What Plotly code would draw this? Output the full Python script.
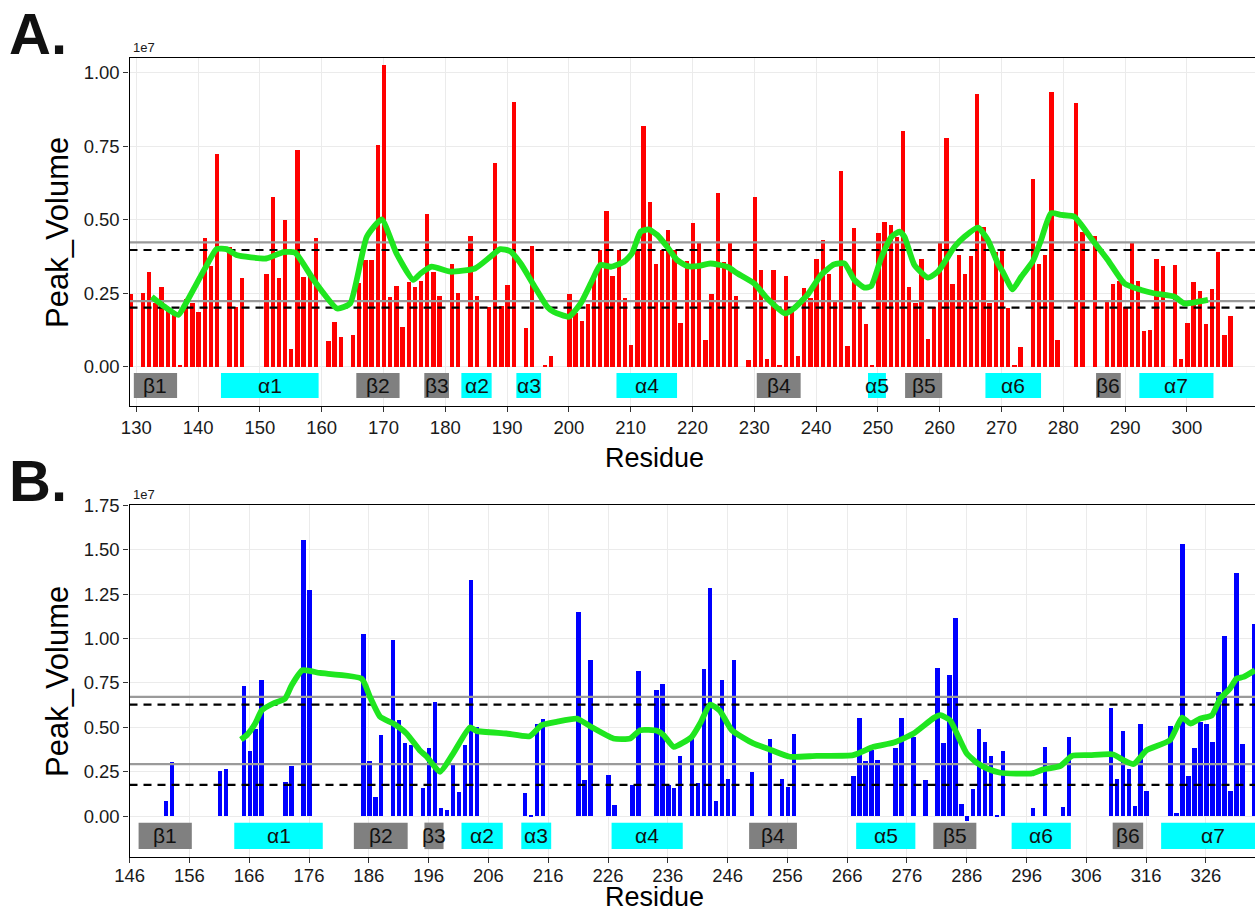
import plotly.graph_objects as go

# ---------------- Panel A: residues 129-307 (peak volume in units of 1e7) ----------------
res_a = [129, 131, 132, 133, 134, 135, 136, 137, 138, 139, 140, 141, 142, 143, 145, 146, 147,
         151, 152, 153, 154, 155, 156, 157, 158, 159, 161, 162, 163, 165, 166, 167, 168, 169,
         170, 171, 172, 173, 174, 175, 176, 177, 178, 179, 181, 182, 184, 185, 187, 188, 189,
         190, 191, 193, 194, 196, 197, 200, 201, 202, 203, 204, 205, 206, 207, 208, 209, 210,
         211, 212, 213, 214, 215, 216, 217, 218, 219, 220, 221, 222, 223, 224, 225, 226, 227,
         229, 230, 231, 232, 233, 234, 235, 236, 237, 238, 239, 240, 241, 242, 243, 244, 245,
         246, 247, 248, 249, 250, 251, 252, 253, 254, 255, 256, 257, 258, 259, 260, 261, 262,
         263, 264, 265, 266, 267, 268, 269, 270, 271, 272, 273, 275, 276, 277, 278, 279, 282,
         283, 285, 287, 288, 289, 290, 291, 292, 293, 294, 295, 296, 298, 299, 300, 301, 302,
         303, 304, 305, 306, 307]
vol_a = [0.247, 0.252, 0.322, 0.215, 0.272, 0.204, 0.180, 0.006, 0.229, 0.215, 0.186, 0.439,
         0.342, 0.722, 0.408, 0.204, 0.303,
         0.317, 0.578, 0.303, 0.499, 0.059, 0.737, 0.306, 0.306, 0.439, 0.087, 0.153, 0.100,
         0.108, 0.286, 0.363, 0.363, 0.754,
         1.026, 0.238, 0.274, 0.134, 0.287, 0.272, 0.290, 0.519, 0.323, 0.241, 0.351, 0.249,
         0.444, 0.241, 0.202, 0.694, 0.206,
         0.277, 0.901, 0.133, 0.410, 0.006, 0.036, 0.247, 0.181, 0.155, 0.213, 0.300, 0.397,
         0.531, 0.310, 0.397, 0.232, 0.074,
         0.397, 0.819, 0.561, 0.348, 0.397, 0.465, 0.397, 0.147, 0.360, 0.488, 0.422, 0.091,
         0.247, 0.592, 0.356, 0.420, 0.240,
         0.023, 0.578, 0.329, 0.025, 0.329, 0.006, 0.310, 0.190, 0.035, 0.266, 0.232, 0.368,
         0.431, 0.315, 0.227, 0.665, 0.070,
         0.473, 0.227, 0.144, 0.006, 0.454, 0.493, 0.482, 0.442, 0.803, 0.270, 0.215, 0.365,
         0.094, 0.204, 0.420, 0.777, 0.280,
         0.380, 0.315, 0.376, 0.926, 0.476, 0.215, 0.390, 0.393, 0.200, 0.006, 0.068, 0.640,
         0.351, 0.380, 0.935, 0.091, 0.898,
         0.459, 0.444, 0.219, 0.280, 0.290, 0.204, 0.422, 0.290, 0.121, 0.125, 0.366, 0.342,
         0.346, 0.026, 0.147, 0.287, 0.259,
         0.144, 0.264, 0.389, 0.108, 0.173]

# smoothed trend for panel A
trend_a_res = [132.5, 134.5, 136.8, 138.0, 141.0, 143.0, 144.6, 146.2, 151.0, 153.8, 155.7,
               158.7, 162.5, 164.6, 167.3, 169.7, 172.1, 174.8, 176.0, 177.8, 180.8, 184.8,
               187.3, 188.9, 190.5, 192.2, 194.3, 196.5, 197.5, 200.0, 201.9, 203.8, 205.1,
               206.8, 208.9, 210.2, 211.6, 212.9, 214.3, 215.9, 217.5, 219.2, 220.8, 222.9,
               225.6, 227.3, 230.0, 232.1, 235.0, 236.4, 238.6, 240.8, 242.9, 244.6, 246.2,
               247.8, 248.9, 250.5, 252.2, 253.5, 254.3, 255.9, 258.1, 259.7, 262.4, 264.0,
               266.2, 267.8, 269.4, 270.2, 271.8, 273.2, 275.1, 276.4, 278.0, 279.7, 281.8,
               284.5, 287.2, 289.9, 292.6, 294.8, 298.0, 299.6, 301.8, 303.4]
trend_a_val = [0.238, 0.205, 0.176, 0.215, 0.330, 0.400, 0.400, 0.380, 0.368, 0.390, 0.388,
               0.295, 0.198, 0.215, 0.442, 0.501, 0.385, 0.295, 0.317, 0.340, 0.323, 0.334,
               0.374, 0.400, 0.393, 0.351, 0.278, 0.204, 0.187, 0.170, 0.215, 0.295, 0.346,
               0.340, 0.357, 0.385, 0.459, 0.467, 0.448, 0.408, 0.363, 0.342, 0.342, 0.351,
               0.340, 0.317, 0.283, 0.232, 0.181, 0.198, 0.244, 0.312, 0.348, 0.351, 0.295,
               0.269, 0.274, 0.368, 0.442, 0.459, 0.442, 0.346, 0.303, 0.323, 0.408, 0.442,
               0.473, 0.431, 0.351, 0.323, 0.263, 0.306, 0.360, 0.431, 0.522, 0.516, 0.510,
               0.437, 0.363, 0.283, 0.261, 0.249, 0.238, 0.215, 0.221, 0.227]

# reference levels for panel A
grey_a = [0.423, 0.223]
dash_a = [0.397, 0.201]

# secondary structure elements for panel A: (label, start, end, kind)
ss_a = [("β1", 129.6, 136.6, "b"), ("α1", 143.7, 159.5, "a"), ("β2", 165.6, 172.6, "b"),
        ("β3", 176.6, 180.6, "b"), ("α2", 182.6, 187.5, "a"), ("α3", 191.5, 195.5, "a"),
        ("α4", 207.7, 217.5, "a"), ("β4", 230.4, 237.5, "b"), ("α5", 248.4, 251.3, "a"),
        ("β5", 254.4, 260.4, "b"), ("α6", 267.4, 276.4, "a"), ("β6", 285.3, 289.3, "b"),
        ("α7", 292.3, 304.3, "a")]

# ---------------- Panel B: residues 146-334 ----------------
res_b = [152, 153, 161, 162, 165, 166, 167, 168, 172, 173, 175, 176, 185, 186, 187, 188, 190,
         191, 192, 193, 195, 196, 197, 198, 199, 200, 201, 202, 203, 204, 212, 213, 214, 215,
         221, 222, 223, 226, 227, 230, 231, 234, 235, 236, 237, 238, 240, 241, 242, 243, 244,
         245, 246, 247, 250, 253, 255, 256, 257, 267, 268, 269, 270, 271, 274, 275, 277, 279,
         281, 282, 283, 284, 285, 286, 287, 288, 289, 290, 291, 292, 297, 299, 302, 303, 310,
         311, 312, 313, 314, 315, 316, 320, 321, 322, 323, 324, 325, 326, 327, 328, 329, 330,
         331, 332, 334]
vol_b = [0.086, 0.306, 0.253, 0.263, 0.733, 0.368, 0.488, 0.769, 0.193, 0.281, 1.553, 1.275,
         1.028, 0.311, 0.105, 0.459, 0.994,
         0.540, 0.413, 0.398, 0.156, 0.381, 0.643, 0.043, 0.034, 0.287, 0.135, 0.400, 1.331,
         0.499, 0.131, 0.005, 0.521, 0.546,
         1.149, 0.203, 0.878, 0.231, 0.060, 0.174, 0.818, 0.709, 0.746, 0.174, 0.156, 0.339,
         0.437, 0.189, 0.831, 1.284, 0.086,
         0.769, 0.210, 0.881, 0.246, 0.435, 0.210, 0.165, 0.465, 0.225, 0.551, 0.308, 0.371,
         0.313, 0.383, 0.555, 0.446, 0.203,
         0.834, 0.409, 0.793, 1.116, 0.068, -0.026, 0.154, 0.489, 0.416, 0.341, 0.006, 0.368,
         0.043, 0.390, 0.049, 0.446, 0.606,
         0.206, 0.480, 0.263, 0.056, 0.518, 0.143, 0.510, 0.015, 1.534, 0.225, 0.381, 0.531,
         0.516, 0.416, 0.699, 1.014, 0.143,
         1.369, 0.405, 1.084]

trend_b_res = [164.6, 165.6, 167.0, 168.1, 170.0, 172.0, 173.1, 174.9, 177.8, 184.8, 186.2,
               187.9, 190.1, 192.3, 194.5, 195.7, 197.9, 200.1, 202.9, 204.0, 209.0, 212.9,
               214.9, 217.4, 220.8, 223.0, 226.9, 229.7, 231.4, 234.2, 235.3, 237.0, 240.0,
               241.4, 243.1, 244.7, 246.7, 250.3, 252.6, 256.4, 260.9, 267.0, 270.4, 273.8,
               277.1, 280.5, 281.6, 283.2, 284.6, 286.0, 287.7, 289.4, 291.6, 296.9, 298.8,
               301.6, 303.6, 306.6, 310.5, 312.2, 313.9, 316.1, 320.0, 322.0, 323.4, 325.0,
               327.0, 328.4, 330.0, 331.1, 332.3, 334.2]
trend_b_val = [0.431, 0.456, 0.521, 0.596, 0.634, 0.662, 0.737, 0.821, 0.806, 0.774, 0.671,
               0.559, 0.521, 0.465, 0.371, 0.334, 0.249, 0.352, 0.499, 0.480, 0.465, 0.450,
               0.512, 0.531, 0.549, 0.506, 0.437, 0.437, 0.484, 0.480, 0.456, 0.390, 0.446,
               0.521, 0.628, 0.593, 0.484, 0.409, 0.381, 0.334, 0.339, 0.343, 0.390, 0.414,
               0.465, 0.553, 0.568, 0.540, 0.446, 0.352, 0.300, 0.268, 0.244, 0.240, 0.263,
               0.281, 0.339, 0.343, 0.347, 0.315, 0.293, 0.371, 0.428, 0.555, 0.521, 0.549,
               0.568, 0.662, 0.718, 0.774, 0.784, 0.821]

grey_b = [0.671, 0.293]
dash_b = [0.628, 0.176]

ss_b = [("β1", 147.5, 156.4, "b"), ("α1", 163.5, 178.3, "a"), ("β2", 183.5, 192.5, "b"),
        ("β3", 195.3, 198.5, "b"), ("α2", 201.5, 208.4, "a"), ("α3", 211.5, 216.5, "a"),
        ("α4", 226.6, 238.5, "a"), ("β4", 249.6, 257.6, "b"), ("α5", 267.5, 277.4, "a"),
        ("β5", 280.4, 287.6, "b"), ("α6", 293.5, 303.4, "a"), ("β6", 310.4, 315.5, "b"),
        ("α7", 318.5, 336.0, "a")]

# ---------------- figure geometry ----------------
W, H = 1255, 913
FONT = "Liberation Sans, Arial, Helvetica, sans-serif"
X0 = 129.5 / W


def py(px):
    return 1 - px / H


panels = [
    dict(res=res_a, vol=vol_a, tr=trend_a_res, tv=trend_a_val, grey=grey_a, dash=dash_a,
         ss=ss_a, color="#FF0000", xr=[128.9, 311.02], yr=[-0.1337, 1.050],
         xt=list(range(130, 301, 10)), yt=[0, 0.25, 0.5, 0.75, 1.0],
         dom=[py(406), py(58)], box=(-0.0215, -0.1066), top=58, letter="A.",
         letter_y=33, mid=232, bw=0.70, standoff=0),
    dict(res=res_b, vol=vol_b, tr=trend_b_res, tv=trend_b_val, grey=grey_b, dash=dash_b,
         ss=ss_b, color="#0000FF", xr=[145.98, 334.2], yr=[-0.2306, 1.752],
         xt=list(range(146, 327, 10)), yt=[0, 0.25, 0.5, 0.75, 1.0, 1.25, 1.5, 1.75],
         dom=[py(857), py(505)], box=(-0.037, -0.186), top=505, letter="B.",
         letter_y=480, mid=681, bw=0.74, standoff=-3),
]

# x-axis titles: (vertical position in px, anchor)
titles = [(458, "middle"), (914, "bottom")]

fig = go.Figure()
shapes, annotations = [], []

for i, p in enumerate(panels):
    n = "" if i == 0 else str(i + 1)
    xa, ya = "x" + n, "y" + n

    fig.add_trace(go.Bar(x=p["res"], y=p["vol"], width=p["bw"], marker_color=p["color"],
                         marker_line_width=0, xaxis=xa, yaxis=ya, showlegend=False))
    for v in p["grey"]:
        fig.add_trace(go.Scatter(x=p["xr"], y=[v, v], mode="lines", xaxis=xa, yaxis=ya,
                                 line=dict(color="#9A9A9A", width=2.2), showlegend=False))
    for v in p["dash"]:
        fig.add_trace(go.Scatter(x=p["xr"], y=[v, v], mode="lines", xaxis=xa, yaxis=ya,
                                 line=dict(color="black", width=2.2, dash="8px,6px"),
                                 showlegend=False))
    fig.add_trace(go.Scatter(x=p["tr"], y=p["tv"], mode="lines", xaxis=xa, yaxis=ya,
                             line=dict(color="#1FE61F", width=5.8, shape="spline",
                                       smoothing=0.5), showlegend=False))

    # secondary-structure boxes
    b0, b1 = p["box"]
    for lab, s, e, kind in p["ss"]:
        fill = "#808080" if kind == "b" else "#00FFFF"
        shapes.append(dict(type="rect", xref=xa, yref=ya, x0=s, x1=e, y0=b1, y1=b0,
                           fillcolor=fill, line=dict(width=0), layer="above"))
        annotations.append(dict(x=(s + e) / 2, y=(b0 + b1) / 2, xref=xa, yref=ya,
                                text=lab, showarrow=False,
                                font=dict(family=FONT, size=21, color="#111111")))

    axis_font = dict(family=FONT, size=18.5, color="#1A1A1A")
    fig.update_layout(**{
        ("xaxis" + n): dict(domain=[X0, 1], range=p["xr"], anchor=ya, tickvals=p["xt"],
                            ticks="outside", ticklen=5, tickwidth=1.2, tickcolor="#333333",
                            showline=True, linecolor="black", linewidth=1.3, mirror=True,
                            showgrid=True, gridcolor="#EBEBEB", gridwidth=1,
                            zeroline=False, tickfont=axis_font, automargin=False,
                            ticklabelstandoff=p["standoff"]),
        ("yaxis" + n): dict(domain=p["dom"], range=p["yr"], anchor=xa, tickvals=p["yt"],
                            ticktext=["%.2f" % t for t in p["yt"]],
                            ticks="outside", ticklen=5, tickwidth=1.2, tickcolor="#333333",
                            showline=True, linecolor="black", linewidth=1.3,
                            showgrid=True, gridcolor="#EBEBEB", gridwidth=1,
                            zeroline=False, tickfont=axis_font, automargin=False),
    })

    ty, tanchor = titles[i]
    annotations += [
        dict(x=X0 + 0.001, y=py(p["top"] - 1), xref="paper", yref="paper", text="1e7",
             showarrow=False, xanchor="left", yanchor="bottom",
             font=dict(family=FONT, size=13, color="#1A1A1A")),
        dict(x=(X0 + 1) / 2 - 0.03, y=py(ty), xref="paper", yref="paper",
             text="Residue", showarrow=False, xanchor="center", yanchor=tanchor,
             font=dict(family=FONT, size=27, color="black")),
        dict(x=57 / W, y=py(p["mid"]), xref="paper", yref="paper", text="Peak_Volume",
             showarrow=False, textangle=-90, xanchor="center", yanchor="middle",
             font=dict(family=FONT, size=31, color="black")),
        dict(x=38 / W, y=py(p["letter_y"]), xref="paper", yref="paper",
             text="<b>%s</b>" % p["letter"], showarrow=False, xanchor="center",
             yanchor="middle", font=dict(family=FONT, size=58, color="#111111")),
    ]

fig.update_layout(width=W, height=H, margin=dict(l=0, r=0, t=0, b=0),
                  paper_bgcolor="white", plot_bgcolor="white", bargap=0,
                  shapes=shapes, annotations=annotations)

fig.write_html("out.html")
